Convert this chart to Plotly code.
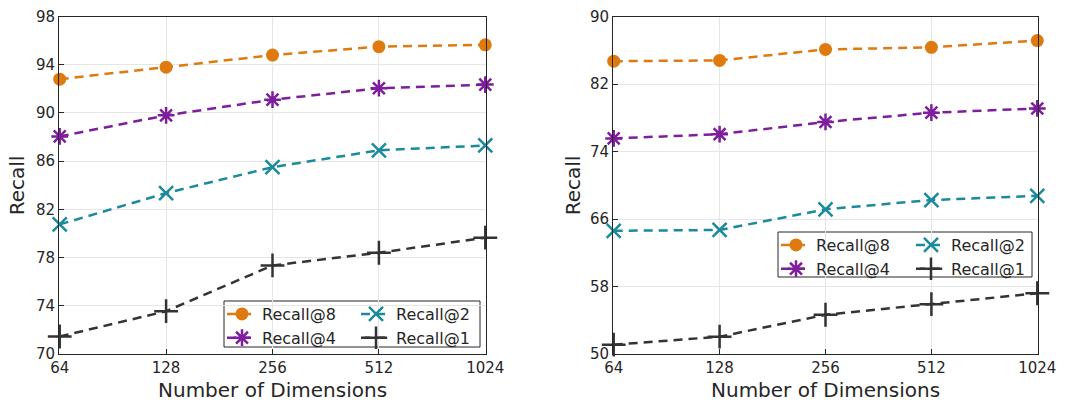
import math
import plotly.graph_objects as go

dims = [64, 128, 256, 512, 1024]
tick_labels = ["64", "128", "256", "512", "1024"]

left_r8 = [92.8, 93.8, 94.8, 95.5, 95.65]
left_r4 = [88.05, 89.8, 91.1, 92.05, 92.35]
left_r2 = [80.75, 83.35, 85.5, 86.9, 87.3]
left_r1 = [71.45, 73.55, 77.35, 78.4, 79.65]

right_r8 = [84.7, 84.8, 86.1, 86.35, 87.15]
right_r4 = [75.55, 76.05, 77.5, 78.6, 79.1]
right_r2 = [64.6, 64.7, 67.15, 68.25, 68.75]
right_r1 = [51.1, 52.05, 54.65, 55.9, 57.2]

left_yticks = [70, 74, 78, 82, 86, 90, 94, 98]
right_yticks = [50, 58, 66, 74, 82, 90]

names = ["Recall@8", "Recall@4", "Recall@2", "Recall@1"]
colors = ["#DF7A0E", "#7E1E9C", "#1A8A9C", "#333333"]
symbols = ["circle", "asterisk-open", "x-thin-open", "cross-thin-open"]
sizes = [13, 14, 14, 17]

W, H = 1068, 402
FONT = "DejaVu Sans"
TXT = "#262626"

fig = go.Figure()

def add_panel(series, xa, ya, legends):
    for i, vals in enumerate(series):
        sym = symbols[i]
        marker = dict(symbol=sym, size=sizes[i], color=colors[i],
                      line=dict(color=colors[i], width=0 if sym == "circle" else 2.5))
        fig.add_trace(go.Scatter(
            x=dims, y=vals, name=names[i], mode="lines+markers",
            line=dict(color=colors[i], width=2.5, dash="9px,6px"),
            marker=marker, xaxis=xa, yaxis=ya, cliponaxis=False,
            legend=legends[i], showlegend=True,
        ))

add_panel([left_r8, left_r4, left_r2, left_r1], "x", "y",
          ["legend", "legend", "legend2", "legend2"])
add_panel([right_r8, right_r4, right_r2, right_r1], "x2", "y2",
          ["legend3", "legend3", "legend4", "legend4"])

ydom = [1 - 354 / H, 1 - 16.5 / H]
axis_common = dict(
    showline=True, linecolor=TXT, linewidth=1, mirror=True,
    showgrid=True, gridcolor="#E6E6E6", gridwidth=1,
    ticks="inside", ticklen=5, tickcolor=TXT,
    tickfont=dict(family=FONT, size=15, color=TXT),
    zeroline=False, automargin=False,
)
eps = 0.002
xr = [math.log10(64) - eps, math.log10(1024) + eps]
lx = [59 / W, 486 / W]
rx = [613 / W, 1038 / W]
fig.update_layout(
    width=W, height=H,
    margin=dict(l=0, r=0, t=0, b=0),
    paper_bgcolor="white", plot_bgcolor="white",
    font=dict(family=FONT, color=TXT),
    xaxis=dict(domain=lx, type="log", range=xr,
               tickvals=dims, ticktext=tick_labels, anchor="y", **axis_common),
    yaxis=dict(domain=ydom, range=[70, 98], tickvals=left_yticks, anchor="x", **axis_common),
    xaxis2=dict(domain=rx, type="log", range=xr,
                tickvals=dims, ticktext=tick_labels, anchor="y2", **axis_common),
    yaxis2=dict(domain=ydom, range=[50, 90], tickvals=right_yticks, anchor="x2", **axis_common),
)

# axis titles
for dom, ylab_x in [(lx, 17), (rx, 573)]:
    fig.add_annotation(text="Number of Dimensions", xref="paper", yref="paper",
                       x=(dom[0] + dom[1]) / 2, y=1 - 390 / H, xanchor="center", yanchor="middle",
                       showarrow=False, font=dict(family=FONT, size=20, color=TXT))
    fig.add_annotation(text="Recall", xref="paper", yref="paper", textangle=-90,
                       x=ylab_x / W, y=(ydom[0] + ydom[1]) / 2, xanchor="center", yanchor="middle",
                       showarrow=False, font=dict(family=FONT, size=20, color=TXT))

leg_common = dict(bgcolor="rgba(0,0,0,0)", borderwidth=0, xanchor="left", yanchor="top",
                  font=dict(family=FONT, size=16, color=TXT),
                  tracegroupgap=0, itemwidth=30)
fig.update_layout(
    legend=dict(x=222 / W, y=1 - 297 / H, **leg_common),
    legend2=dict(x=356 / W, y=1 - 297 / H, **leg_common),
    legend3=dict(x=776 / W, y=1 - 228 / H, **leg_common),
    legend4=dict(x=911 / W, y=1 - 228 / H, **leg_common),
)

for (x0, x1, y0, y1) in [(224, 480, 301, 347), (778, 1032, 232, 277)]:
    fig.add_shape(type="rect", xref="paper", yref="paper",
                  x0=x0 / W, x1=x1 / W, y0=1 - y1 / H, y1=1 - y0 / H,
                  line=dict(color=TXT, width=1), fillcolor="white", layer="below")

fig.write_html("out.html", config={"displayModeBar": False},
               post_script="document.body.style.margin='0';document.body.style.overflow='hidden';")
